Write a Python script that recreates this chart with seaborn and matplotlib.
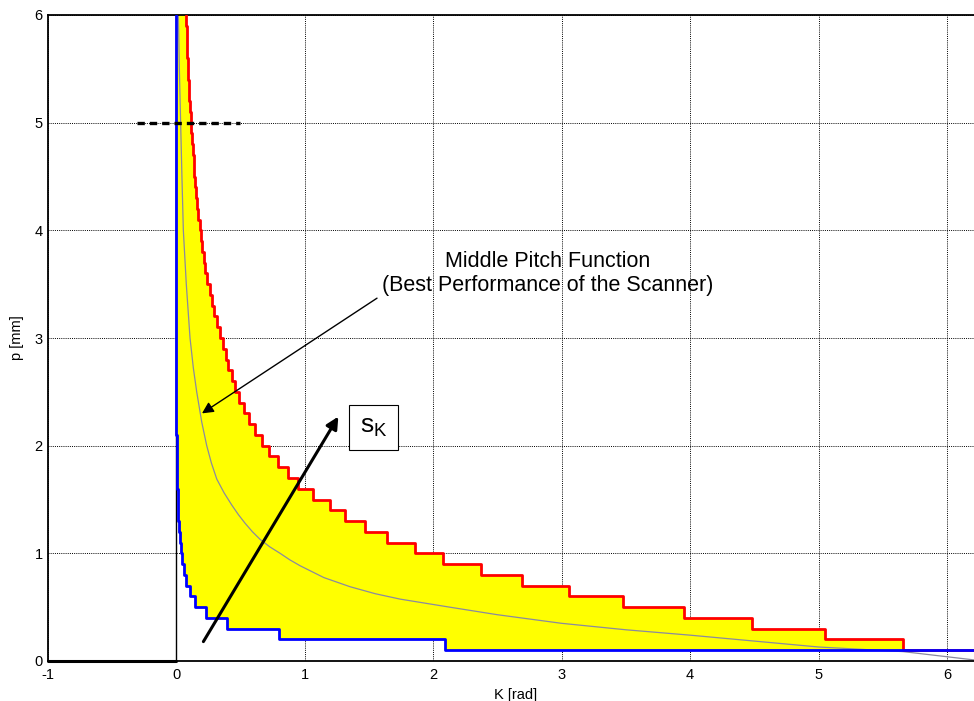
import numpy as np
import pandas as pd
import seaborn as sns
import matplotlib
matplotlib.use('Agg')
import matplotlib.pyplot as plt

# step levels of the upper (red) pitch bound and the K where each level ends
red_p = [6.0, 5.9, 5.8, 5.7, 5.6, 5.5, 5.4, 5.3, 5.2, 5.1,
         5.0, 4.9, 4.8, 4.7, 4.6, 4.5, 4.4, 4.3, 4.2, 4.1,
         4.0, 3.9, 3.8, 3.7, 3.6, 3.5, 3.4, 3.3, 3.2, 3.1,
         3.0, 2.9, 2.8, 2.7, 2.6, 2.5, 2.4, 2.3, 2.2, 2.1,
         2.0, 1.9, 1.8, 1.7, 1.6, 1.5, 1.4, 1.3, 1.2, 1.1,
         1.0, 0.9, 0.8, 0.7, 0.6, 0.5, 0.4, 0.3, 0.2, 0.1]
red_k = [0.080, 0.083, 0.086, 0.089, 0.092, 0.096, 0.100, 0.104, 0.109, 0.114,
         0.120, 0.125, 0.131, 0.137, 0.143, 0.150, 0.157, 0.165, 0.174, 0.183,
         0.193, 0.203, 0.214, 0.228, 0.244, 0.265, 0.278, 0.296, 0.317, 0.342,
         0.363, 0.389, 0.407, 0.433, 0.459, 0.493, 0.529, 0.571, 0.615, 0.667,
         0.726, 0.796, 0.874, 0.952, 1.069, 1.198, 1.315, 1.47, 1.64, 1.86,
         2.08, 2.37, 2.69, 3.06, 3.48, 3.95, 4.48, 5.05, 5.66, 6.30]

# lower (blue) pitch bound
blue_p = [6.0, 2.2, 2.1, 2.0, 1.9, 1.8, 1.7, 1.6, 1.5, 1.4, 1.3, 1.2,
          1.1, 1.0, 0.9, 0.8, 0.7, 0.6, 0.5, 0.4, 0.3, 0.2, 0.1]
blue_k = [0.0, 0.003, 0.004, 0.005, 0.006, 0.008, 0.010, 0.012, 0.015, 0.019, 0.024, 0.030,
          0.038, 0.047, 0.060, 0.075, 0.107, 0.15, 0.23, 0.40, 0.80, 2.09, 6.30]

# middle pitch function (grey)
mid_k = [0.018, 0.026, 0.036, 0.046, 0.057, 0.080, 0.109, 0.135, 0.161, 0.20,
         0.239, 0.275, 0.317, 0.375, 0.433, 0.485, 0.537, 0.595, 0.654, 0.73,
         0.81, 0.885, 0.965, 1.15, 1.354, 1.55, 1.743, 2.13, 2.5, 3.0,
         3.5, 4.0, 4.5, 5.0, 5.66, 6.21, 6.30]
mid_p = [6.0, 5.5, 5.0, 4.5, 4.0, 3.5, 3.0, 2.72, 2.5, 2.22,
         2.0, 1.84, 1.69, 1.56, 1.45, 1.36, 1.28, 1.20, 1.13, 1.06,
         1.0, 0.94, 0.885, 0.775, 0.69, 0.625, 0.575, 0.50, 0.43, 0.35,
         0.29, 0.24, 0.185, 0.13, 0.087, 0.01, 0.0]

xticks = [-1, 0, 1, 2, 3, 4, 5, 6]
yticks = [0, 1, 2, 3, 4, 5, 6]


def step_path(k, p):
    # vertices of a 'steps-pre' line through (k, p)
    xs, ys = [k[0]], [p[0]]
    for i in range(1, len(k)):
        xs += [k[i - 1], k[i]]
        ys += [p[i], p[i]]
    return xs, ys


sns.set_style('white')
plt.rcParams['font.family'] = ['Liberation Sans', 'DejaVu Sans']
plt.rcParams['axes.unicode_minus'] = False
plt.rcParams['text.color'] = 'black'
plt.rcParams['axes.labelcolor'] = 'black'

fig = plt.figure(figsize=(9.74, 7.01), dpi=100)
ax = fig.add_axes([47.5 / 974, 40 / 701, 936 / 974, 646 / 701])

df_red = pd.DataFrame({'K': red_k, 'p': red_p})
df_blue = pd.DataFrame({'K': blue_k, 'p': blue_p})
df_mid = pd.DataFrame({'K': mid_k, 'p': mid_p})

# yellow band between the two bounds
rx, ry = step_path(red_k, red_p)
bx, by = step_path(blue_k, blue_p)
ax.fill(rx + bx[::-1], ry + by[::-1], color='#ffff00', lw=0, zorder=1)

ax.plot([0, 0], [0, 6], color='black', lw=1, zorder=0.9)
ax.plot([-1, 0], [0, 0], color='black', lw=2.2, zorder=3, clip_on=False)
ax.plot([-0.3, 0.5], [5, 5], color='black', lw=2.4, dashes=(2.2, 1.5), zorder=4)

sns.lineplot(data=df_mid, x='K', y='p', ax=ax, color='#8a8aa0', lw=0.9,
             estimator=None, sort=False, legend=False, zorder=2)
sns.lineplot(data=df_red, x='K', y='p', ax=ax, color='#ff0000', lw=2.0,
             estimator=None, sort=False, legend=False, drawstyle='steps-pre', zorder=3)
sns.lineplot(data=df_blue, x='K', y='p', ax=ax, color='#0000ff', lw=2.0,
             estimator=None, sort=False, legend=False, drawstyle='steps-pre', zorder=3)

ax.annotate('', xy=(0.202, 2.30), xytext=(1.564, 3.37),
            arrowprops=dict(arrowstyle='-|>', color='black', lw=1.0,
                            mutation_scale=17, shrinkA=0, shrinkB=0), zorder=5)
ax.text(2.89, 3.60, 'Middle Pitch Function\n(Best Performance of the Scanner)',
        ha='center', va='center', fontsize=15.5, linespacing=1.2, zorder=5)

ax.annotate('', xy=(1.263, 2.27), xytext=(0.213, 0.18),
            arrowprops=dict(arrowstyle='-|>', color='black', lw=2.2,
                            mutation_scale=18, shrinkA=0, shrinkB=0), zorder=5)
ax.text(1.535, 2.17, r'$\mathregular{s_K}$', ha='center', va='center', fontsize=19,
        zorder=5, bbox=dict(boxstyle='square,pad=0.4', fc='white', ec='black', lw=0.8))

ax.set_xlim(-1, 2 * np.pi)
ax.set_ylim(0, 6)
ax.set_xticks(xticks)
ax.set_yticks(yticks)
ax.set_axisbelow(True)
ax.grid(True, color='black', linestyle=(0, (1, 1.2)), linewidth=0.7)
ax.tick_params(direction='in', length=5, width=0.8, labelsize=10.5, colors='black')
ax.tick_params(axis='x', pad=5)
ax.tick_params(axis='y', pad=3.5)
for s in ax.spines.values():
    s.set_color('black')
    s.set_linewidth(1.3)
ax.set_xlabel('K [rad]', fontsize=10.5, labelpad=4.5)
ax.set_ylabel('p [mm]', fontsize=10.5, labelpad=7.5)

fig.savefig('out.png', dpi=100)
